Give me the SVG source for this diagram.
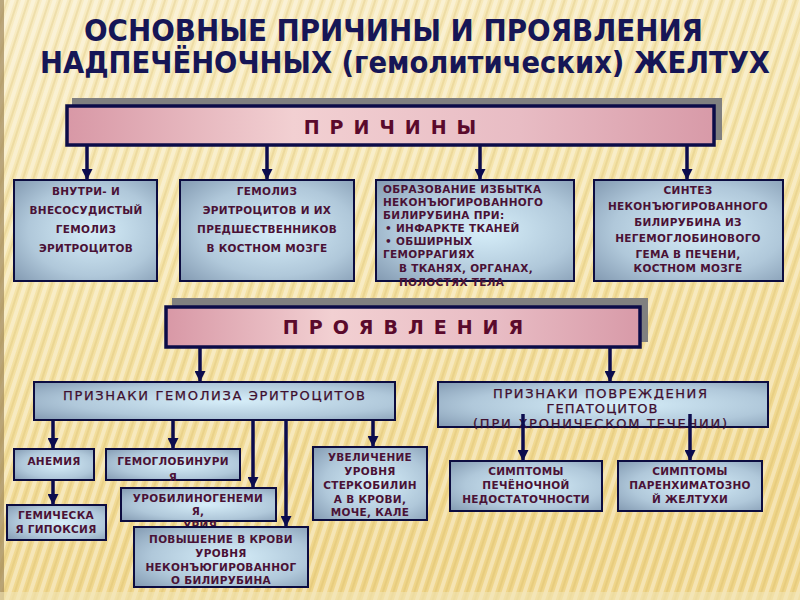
<svg xmlns="http://www.w3.org/2000/svg" width="800" height="600" viewBox="0 0 800 600">
<defs>
<linearGradient id="bg" x1="0" y1="0" x2="0.3" y2="1">
<stop offset="0" stop-color="#f8ecc4"/>
<stop offset="0.5" stop-color="#f4e2a6"/>
<stop offset="1" stop-color="#efd58a"/>
</linearGradient>
<pattern id="stripes" width="10" height="10" patternUnits="userSpaceOnUse" patternTransform="rotate(18)">
<rect x="0" y="0" width="4" height="10" fill="#ffffff" opacity="0.35"/>
<rect x="6" y="0" width="2" height="10" fill="#c8a850" opacity="0.2"/>
</pattern>
<radialGradient id="boxg" cx="0.55" cy="0.5" r="0.75">
<stop offset="0" stop-color="#d6eef9"/>
<stop offset="0.6" stop-color="#b0c8da"/>
<stop offset="1" stop-color="#8198b0"/>
</radialGradient>
<linearGradient id="pink" x1="0" y1="0" x2="1" y2="0">
<stop offset="0" stop-color="#d898a6"/>
<stop offset="0.35" stop-color="#f2d0d2"/>
<stop offset="0.7" stop-color="#e8bcc4"/>
<stop offset="1" stop-color="#d89aa8"/>
</linearGradient>
<marker id="ah" markerWidth="11" markerHeight="11" refX="10" refY="5" orient="auto" markerUnits="userSpaceOnUse" viewBox="0 0 10 10">
<path d="M0,0 L10,5 L0,10 Z" fill="#0c0c4e"/>
</marker>
<style>
.title{font-family:"DejaVu Sans Condensed","DejaVu Sans",sans-serif;font-weight:bold;fill:#161656;font-size:30px}
.box{fill:url(#boxg);stroke:#0c0c40;stroke-width:2}
.bar{fill:url(#pink);stroke:#0c0c48;stroke-width:3.5}
.shadow{fill:#808080}
.t{font-family:"DejaVu Sans",sans-serif;font-weight:bold;fill:#4a1236;font-size:10.5px;letter-spacing:0.3px;text-anchor:middle}
.tl{font-family:"DejaVu Sans",sans-serif;font-weight:bold;fill:#4a1236;font-size:10.5px;letter-spacing:0.3px}
.bt{font-family:"DejaVu Sans",sans-serif;font-weight:bold;fill:#5a0a2c;font-size:19px;text-anchor:middle;letter-spacing:10px}
.ht{font-family:"DejaVu Sans",sans-serif;fill:#3e0e2e;font-size:13px;text-anchor:middle;stroke:#3e0e2e;stroke-width:0.25}
.c{stroke:#0c0c4e;stroke-width:3.5;fill:none}
</style>
</defs>

<rect x="0" y="0" width="800" height="600" fill="url(#bg)"/>
<rect x="0" y="0" width="800" height="600" fill="url(#stripes)"/>
<rect x="0" y="0" width="4" height="600" fill="#a08858" opacity="0.7"/>
<rect x="0" y="592" width="800" height="8" fill="#f2e6b8" opacity="0.6"/>

<g id="title">
<text class="title" x="84" y="41" textLength="619" lengthAdjust="spacingAndGlyphs">ОСНОВНЫЕ  ПРИЧИНЫ  И  ПРОЯВЛЕНИЯ</text>
<text class="title" x="40" y="73" textLength="730" lengthAdjust="spacingAndGlyphs">НАДПЕЧЁНОЧНЫХ  (гемолитических)  ЖЕЛТУХ</text>
</g>

<g id="prichiny">
<rect class="shadow" x="72" y="98" width="650" height="42"/>
<rect class="bar" x="67" y="106" width="647" height="39"/>
<text class="bt" x="395" y="134">ПРИЧИНЫ</text>
</g>

<g id="cause1">
<rect class="box" x="14" y="180" width="143" height="101"/>
<text class="t" x="86" y="195">ВНУТРИ- И</text>
<text class="t" x="86" y="214">ВНЕСОСУДИСТЫЙ</text>
<text class="t" x="86" y="233">ГЕМОЛИЗ</text>
<text class="t" x="86" y="252">ЭРИТРОЦИТОВ</text>
</g>

<g id="cause2">
<rect class="box" x="180" y="180" width="174" height="101"/>
<text class="t" x="267" y="195">ГЕМОЛИЗ</text>
<text class="t" x="267" y="214">ЭРИТРОЦИТОВ  И  ИХ</text>
<text class="t" x="267" y="233">ПРЕДШЕСТВЕННИКОВ</text>
<text class="t" x="267" y="252">В КОСТНОМ МОЗГЕ</text>
</g>

<g id="cause3">
<rect class="box" x="376" y="180" width="198" height="101"/>
<text class="tl" x="383" y="193">ОБРАЗОВАНИЕ ИЗБЫТКА</text>
<text class="tl" x="383" y="206">НЕКОНЪЮГИРОВАННОГО</text>
<text class="tl" x="383" y="219">БИЛИРУБИНА  ПРИ:</text>
<text class="tl" x="385" y="232">• ИНФАРКТЕ ТКАНЕЙ</text>
<text class="tl" x="385" y="245">• ОБШИРНЫХ</text>
<text class="tl" x="383" y="258">ГЕМОРРАГИЯХ</text>
<text class="tl" x="399" y="272">В ТКАНЯХ, ОРГАНАХ,</text>
<text class="tl" x="399" y="286">ПОЛОСТЯХ ТЕЛА</text>
</g>

<g id="cause4">
<rect class="box" x="594" y="180" width="189" height="101"/>
<text class="t" x="688" y="194">СИНТЕЗ</text>
<text class="t" x="688" y="210">НЕКОНЪЮГИРОВАННОГО</text>
<text class="t" x="688" y="226">БИЛИРУБИНА ИЗ</text>
<text class="t" x="688" y="242">НЕГЕМОГЛОБИНОВОГО</text>
<text class="t" x="688" y="258">ГЕМА В ПЕЧЕНИ,</text>
<text class="t" x="688" y="272">КОСТНОМ МОЗГЕ</text>
</g>

<g id="proyavleniya">
<rect class="shadow" x="172" y="298" width="476" height="44"/>
<rect class="bar" x="166" y="307" width="474" height="40"/>
<text class="bt" x="408" y="334">ПРОЯВЛЕНИЯ</text>
</g>

<g id="hemolysis">
<rect class="box" x="34" y="382" width="361" height="38"/>
<text class="ht" x="214" y="400" textLength="302">ПРИЗНАКИ  ГЕМОЛИЗА  ЭРИТРОЦИТОВ</text>
</g>

<g id="hepatocytes">
<rect class="box" x="438" y="382" width="330" height="45"/>
<text class="ht" x="600" y="398" textLength="214">ПРИЗНАКИ  ПОВРЕЖДЕНИЯ</text>
<text class="ht" x="602" y="413" textLength="111">ГЕПАТОЦИТОВ</text>
<text class="ht" x="600" y="428" textLength="254">(ПРИ  ХРОНИЧЕСКОМ  ТЕЧЕНИИ)</text>
</g>

<g id="anemia">
<rect class="box" x="14" y="449" width="80" height="31"/>
<text class="t" x="54" y="465">АНЕМИЯ</text>
</g>

<g id="hypoxia">
<rect class="box" x="7" y="505" width="99" height="35"/>
<text class="t" x="56" y="519">ГЕМИЧЕСКА</text>
<text class="t" x="56" y="533">Я ГИПОКСИЯ</text>
</g>

<g id="hemoglobinuria">
<rect class="box" x="106" y="449" width="134" height="31"/>
<text class="t" x="173" y="465">ГЕМОГЛОБИНУРИ</text>
<text class="t" x="173" y="481">Я</text>
</g>

<g id="urobilinogenemia">
<rect class="box" x="121" y="488" width="155" height="33"/>
<text class="t" x="198" y="502">УРОБИЛИНОГЕНЕМИ</text>
<text class="t" x="198" y="515">Я,</text>
<text class="t" x="198" y="529">,УРИЯ</text>
</g>

<g id="bilirubin">
<rect class="box" x="134" y="527" width="174" height="60"/>
<text class="t" x="221" y="543">ПОВЫШЕНИЕ В КРОВИ</text>
<text class="t" x="221" y="557">УРОВНЯ</text>
<text class="t" x="221" y="571">НЕКОНЪЮГИРОВАННОГ</text>
<text class="t" x="221" y="584">О БИЛИРУБИНА</text>
</g>

<g id="stercobilin">
<rect class="box" x="313" y="447" width="114" height="73"/>
<text class="t" x="370" y="461">УВЕЛИЧЕНИЕ</text>
<text class="t" x="370" y="475">УРОВНЯ</text>
<text class="t" x="370" y="489">СТЕРКОБИЛИН</text>
<text class="t" x="370" y="503">А В КРОВИ,</text>
<text class="t" x="370" y="516">МОЧЕ, КАЛЕ</text>
</g>

<g id="liverfailure">
<rect class="box" x="450" y="461" width="152" height="50"/>
<text class="t" x="526" y="475">СИМПТОМЫ</text>
<text class="t" x="526" y="489">ПЕЧЁНОЧНОЙ</text>
<text class="t" x="526" y="503">НЕДОСТАТОЧНОСТИ</text>
</g>

<g id="parenchymal">
<rect class="box" x="618" y="461" width="144" height="50"/>
<text class="t" x="690" y="475">СИМПТОМЫ</text>
<text class="t" x="690" y="489">ПАРЕНХИМАТОЗНО</text>
<text class="t" x="690" y="503">Й ЖЕЛТУХИ</text>
</g>

<g id="connectors">
<line class="c" x1="87" y1="146" x2="87" y2="180" marker-end="url(#ah)"/>
<line class="c" x1="267" y1="146" x2="267" y2="180" marker-end="url(#ah)"/>
<line class="c" x1="480" y1="146" x2="480" y2="180" marker-end="url(#ah)"/>
<line class="c" x1="687" y1="146" x2="687" y2="180" marker-end="url(#ah)"/>
<line class="c" x1="200" y1="348" x2="200" y2="382" marker-end="url(#ah)"/>
<line class="c" x1="610" y1="348" x2="610" y2="382" marker-end="url(#ah)"/>
<line class="c" x1="53" y1="421" x2="53" y2="449" marker-end="url(#ah)"/>
<line class="c" x1="173" y1="421" x2="173" y2="449" marker-end="url(#ah)"/>
<line class="c" x1="253" y1="421" x2="253" y2="488" marker-end="url(#ah)"/>
<line class="c" x1="286" y1="421" x2="286" y2="527" marker-end="url(#ah)"/>
<line class="c" x1="373" y1="421" x2="373" y2="447" marker-end="url(#ah)"/>
<line class="c" x1="53" y1="481" x2="53" y2="505" marker-end="url(#ah)"/>
<line class="c" x1="523" y1="414" x2="523" y2="461" marker-end="url(#ah)"/>
<line class="c" x1="690" y1="414" x2="690" y2="461" marker-end="url(#ah)"/>
</g>
</svg>
